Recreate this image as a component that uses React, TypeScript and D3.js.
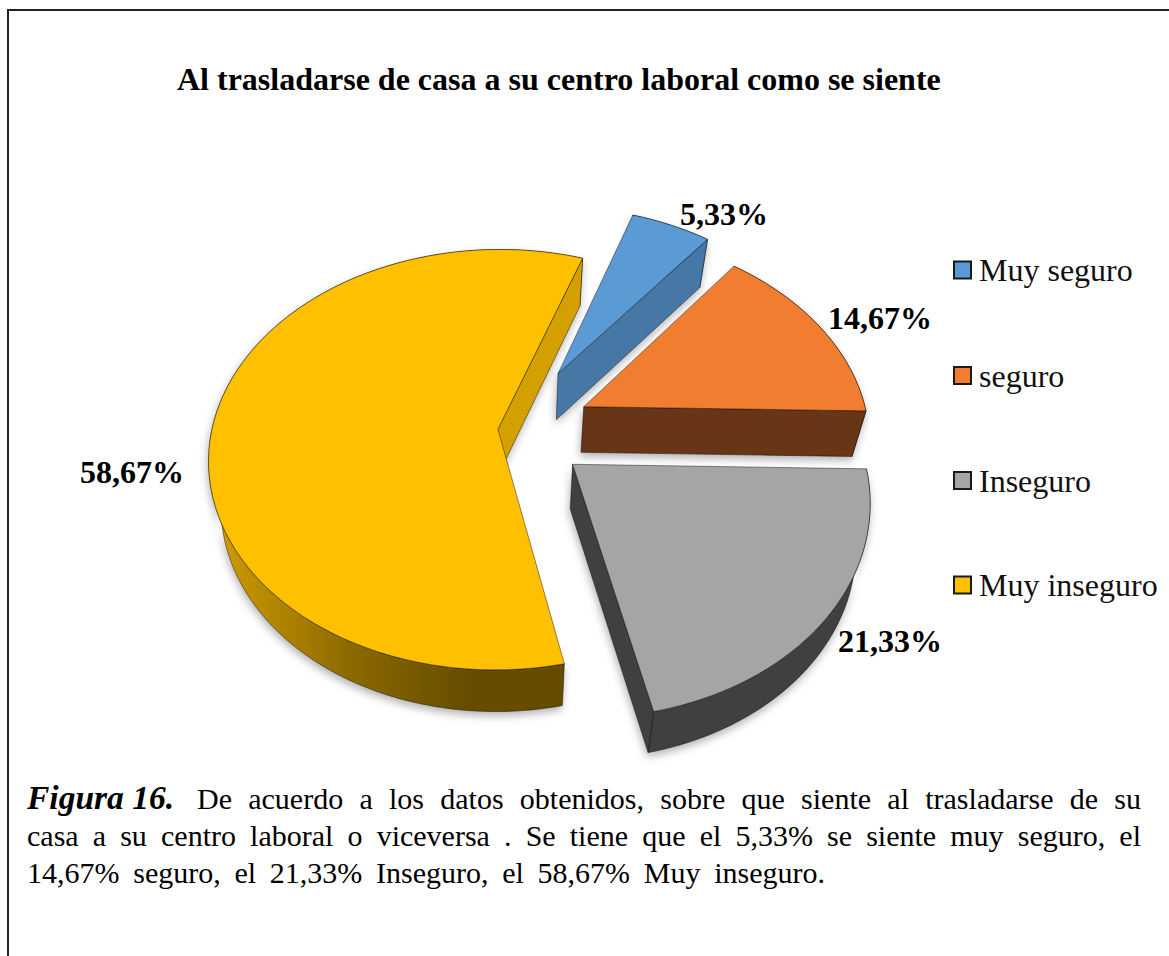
import React, { useLayoutEffect, useRef } from "react";
import * as d3 from "d3";

const categories = ["Muy seguro", "seguro", "Inseguro", "Muy inseguro"];
const percents = [5.33, 14.67, 21.33, 58.67];
const percentLabels = ["5,33%", "14,67%", "21,33%", "58,67%"];
const explosions = [0.325, 0.27, 0.255, 0.06];
const topColors = ["#5B9BD5", "#F07D30", "#A5A5A5", "#FFC000"];
const sideColors = ["#4677A5", "#673416", "#414141", "#D4A000"];
const outerFills = ["#4677A5", "#673416", "#414141", "url(#yellowWall)"];
const labelPos: [number, number][] = [[680, 225], [828, 329], [838, 652], [80, 483]];
const legendY = [270, 375.5, 480.5, 585];
const figureLabel = "Figura 16.";
const captionLines = [
  { text: "De acuerdo a los datos obtenidos, sobre que siente al trasladarse de su", x: 197, y: 809, width: 944 },
  { text: "casa a su centro laboral o viceversa . Se tiene que el 5,33% se siente muy seguro, el", x: 27, y: 846, width: 1114 },
  { text: "14,67% seguro, el 21,33% Inseguro, el 58,67% Muy inseguro.", x: 27, y: 883, width: 798 },
];

const W = 1169, H = 956;
const CX = 515, CY = 430, RX = 286, RY = 206, K = 0.145, BASE = 0.96;
const ROT = (19.2 * Math.PI) / 180;
const FONT = "'Liberation Serif', 'Times New Roman', serif";

const arcs = d3.pie<number>().sort(null).startAngle(ROT).endAngle(ROT + 2 * Math.PI)(percents);
const lineGen = d3.line<[number, number]>();

function project(wx: number, wy: number): [number, number] {
  const s = 1 / (1 - K * wy);
  return [CX + wx * RX * s, CY + wy * RY * s];
}
function drop(p: [number, number]): [number, number] {
  return [CX + (p[0] - CX) * BASE, p[1] + 48 - 0.015 * (p[1] - 250)];
}

function geometry(i: number) {
  const a = arcs[i];
  const mid = (a.startAngle + a.endAngle) / 2;
  const ex = explosions[i] * Math.sin(mid);
  const ey = -explosions[i] * Math.cos(mid);
  const apex = project(ex, ey);
  const n = Math.max(8, Math.ceil((a.endAngle - a.startAngle) * 40));
  const rim = d3.range(n + 1).map((k) => {
    const t = a.startAngle + ((a.endAngle - a.startAngle) * k) / n;
    return project(ex + Math.sin(t), ey - Math.cos(t));
  });
  return { apex, rim };
}

const slices = categories.map((_, i) => geometry(i));
const drawOrder = [0, 3, 1, 2];

export default function App() {
  const ref = useRef<SVGSVGElement>(null);
  useLayoutEffect(() => {
    if (!ref.current) return;
    d3.select(ref.current)
      .selectAll<SVGTextElement, unknown>("text.just")
      .each(function () {
        const target = +(this.getAttribute("data-w") || 0);
        const txt = this.textContent || "";
        const spaces = (txt.match(/ /g) || []).length;
        this.style.wordSpacing = "0px";
        const len = this.getComputedTextLength();
        this.style.wordSpacing = `${(target - len) / spaces}px`;
      });
  }, []);

  return (
    <svg ref={ref} width={W} height={H} style={{ position: "absolute", left: 0, top: 0, background: "#fff" }}>
      <defs>
        <linearGradient id="yellowWall" gradientUnits="userSpaceOnUse" x1={215} y1={0} x2={470} y2={0}>
          <stop offset="0" stopColor="#D09C00" />
          <stop offset="0.55" stopColor="#8A6800" />
          <stop offset="1" stopColor="#664C00" />
        </linearGradient>
        <filter id="shadow" x="-10%" y="-10%" width="120%" height="125%">
          <feDropShadow dx={-1} dy={4} stdDeviation={4} floodColor="#000" floodOpacity={0.3} />
        </filter>
      </defs>

      <path d={`M1169,10H8V956`} fill="none" stroke="#222" strokeWidth={2} />

      <text x={177} y={90} fontFamily={FONT} fontWeight="bold" fontSize={32} fill="#000">
        Al trasladarse de casa a su centro laboral como se siente
      </text>

      {drawOrder.map((i) => {
        const { apex, rim } = slices[i];
        const last = rim[rim.length - 1];
        const topPath = lineGen([apex, ...rim])! + "Z";
        const outerWall = lineGen([...rim, ...rim.map(drop).reverse()])! + "Z";
        const radialWall = lineGen([apex, last, drop(last), drop(apex)])! + "Z";
        const edge = { stroke: "#000", strokeOpacity: 0.55, strokeWidth: 0.8, strokeLinejoin: "round" as const };
        return (
          <g key={i}>
            <g filter="url(#shadow)">
              <path d={outerWall} fill={outerFills[i]} {...edge} />
              <path d={radialWall} fill={sideColors[i]} {...edge} />
            </g>
            <path d={topPath} fill={topColors[i]} {...edge} />
          </g>
        );
      })}

      {percentLabels.map((t, i) => (
        <text key={t} x={labelPos[i][0]} y={labelPos[i][1]} fontFamily={FONT} fontWeight="bold" fontSize={32} fill="#000">
          {t}
        </text>
      ))}

      {categories.map((c, i) => (
        <g key={c}>
          <rect x={954} y={legendY[i] - 8.5} width={17} height={17} fill={topColors[i]} stroke="#1a1a1a" strokeWidth={2} />
          <text x={979} y={legendY[i] + 11} fontFamily={FONT} fontSize={32} fill="#111">
            {c}
          </text>
        </g>
      ))}

      <text x={27} y={captionLines[0].y} fontFamily={FONT} fontSize={33.5} fontWeight="bold" fontStyle="italic" fill="#000">
        {figureLabel}
      </text>
      {captionLines.map((l) => (
        <text key={l.y} className="just" data-w={l.width} x={l.x} y={l.y} fontFamily={FONT} fontSize={30} fill="#000">
          {l.text}
        </text>
      ))}
    </svg>
  );
}
